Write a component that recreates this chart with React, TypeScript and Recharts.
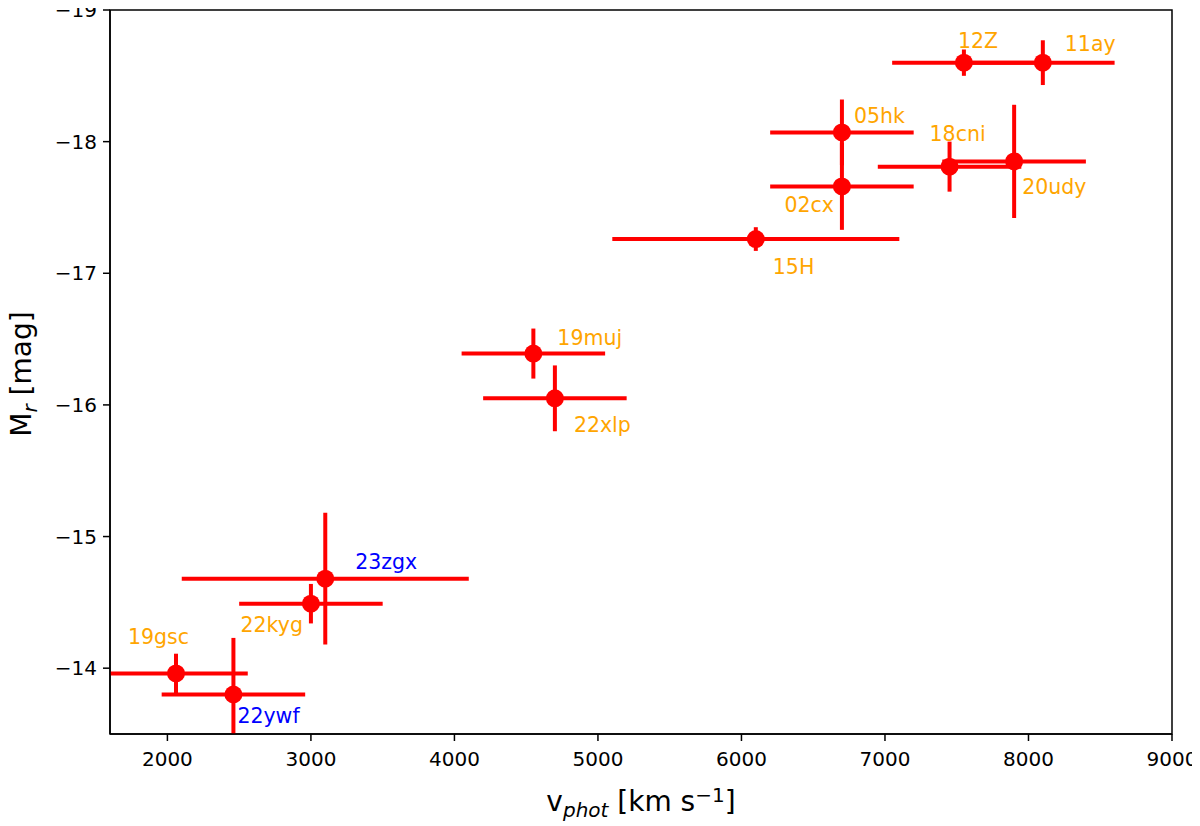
import { ScatterChart, Scatter, XAxis, YAxis, ErrorBar, ReferenceArea } from "recharts";

// supernova name, photospheric velocity (km/s) and r-band absolute magnitude
const names = ["12Z", "11ay", "05hk", "18cni", "20udy", "02cx", "15H", "19muj", "22xlp", "23zgx", "22kyg", "19gsc", "22ywf"];
const vphot = [7550, 8100, 6700, 7450, 7900, 6700, 6100, 4550, 4700, 3100, 3000, 2060, 2460];
const vphotErr = [500, 500, 500, 500, 500, 500, 1000, 500, 500, 1000, 500, 500, 500];
const magR = [-18.6, -18.6, -18.07, -17.81, -17.85, -17.66, -17.26, -16.39, -16.05, -14.68, -14.49, -13.96, -13.8];
const magErr = [0.1, 0.17, 0.25, 0.19, 0.43, 0.33, 0.09, 0.19, 0.25, 0.5, 0.15, 0.15, 0.43];
const newObjects = ["23zgx", "22ywf"];

const xTicks = [2000, 3000, 4000, 5000, 6000, 7000, 8000, 9000];
const yTicks = [-19, -18, -17, -16, -15, -14];

const font = "'DejaVu Sans', sans-serif";

// annotation placement relative to the marker: dx, dy (baseline), anchor
const labelPos: Record<string, [number, number, "start" | "end"]> = {
  "12Z": [-6, -15, "start"],
  "11ay": [22, -12, "start"],
  "05hk": [12, -9, "start"],
  "18cni": [-20, -26, "start"],
  "20udy": [8, 33, "start"],
  "02cx": [-8, 26, "end"],
  "15H": [17, 35, "start"],
  "19muj": [24, -9, "start"],
  "22xlp": [19, 34, "start"],
  "23zgx": [30, -10, "start"],
  "22kyg": [-8, 28, "end"],
  "19gsc": [-48, -29, "start"],
  "22ywf": [4, 28, "start"],
};

const data = names.map((name, i) => ({
  name,
  v: vphot[i],
  vErr: vphotErr[i],
  m: magR[i],
  mErr: magErr[i],
}));

const minus = (v: number) => String(v).replace("-", "\u2212");

const Point = (props: any) => {
  const { cx, cy, payload } = props;
  const [dx, dy, anchor] = labelPos[payload.name];
  const color = newObjects.includes(payload.name) ? "#0000ff" : "#ffa500";
  return (
    <g>
      <circle cx={cx} cy={cy} r={9} fill="#ff0000" />
      <text x={cx + dx} y={cy + dy} textAnchor={anchor} fontSize={20.5} fontFamily={font} fill={color}>
        {payload.name}
      </text>
    </g>
  );
};

const XTitle = (props: any) => {
  const { x, y, width } = props.viewBox;
  return (
    <text x={x + width / 2} y={y + 77} textAnchor="middle" fontSize={28} fontFamily={font} fill="#000">
      v
      <tspan fontSize={20} fontStyle="italic" dy={6}>phot</tspan>
      <tspan dy={-6}> [km s</tspan>
      <tspan fontSize={20} dy={-9}>{"\u22121"}</tspan>
      <tspan dy={9}>]</tspan>
    </text>
  );
};

const YTitle = (props: any) => {
  const { y, height } = props.viewBox;
  const cx = 23;
  const cy = y + height / 2 + 2;
  return (
    <text x={cx} y={cy} transform={`rotate(-90 ${cx} ${cy})`} textAnchor="middle" fontSize={28} fontFamily={font} fill="#000">
      M
      <tspan fontSize={20} fontStyle="italic" dy={6}>r</tspan>
      <tspan dy={-6}> [mag]</tspan>
    </text>
  );
};

const axisStroke = { stroke: "#000", strokeWidth: 1.5 };
const tickStyle = { fill: "#000", fontSize: 20, fontFamily: font };

export default function App() {
  return (
    <div style={{ position: "relative" }}>
      {/* error bars are clipped to the axes box, like matplotlib does */}
      <svg width={0} height={0} style={{ position: "absolute" }}>
        <defs>
          <clipPath id="plotBox">
            <rect x={102} y={2} width={1062} height={724} />
          </clipPath>
        </defs>
      </svg>
      <style>{".recharts-errorBar line { clip-path: url(#plotBox); }"}</style>
      <ScatterChart width={1184} height={818} margin={{ top: 2, right: 20, bottom: 0, left: 0 }}>
        <XAxis
          type="number"
          dataKey="v"
          domain={[1600, 9000]}
          ticks={xTicks}
          interval={0}
          allowDataOverflow
          height={92}
          tickSize={7}
          tickMargin={11}
          axisLine={axisStroke}
          tickLine={axisStroke}
          tick={tickStyle}
          label={{ content: XTitle }}
        />
        <YAxis
          type="number"
          dataKey="m"
          domain={[-19, -13.5]}
          reversed
          ticks={yTicks}
          interval={0}
          allowDataOverflow
          width={102}
          tickSize={7}
          tickMargin={6}
          tickFormatter={minus}
          axisLine={axisStroke}
          tickLine={axisStroke}
          tick={tickStyle}
          label={{ content: YTitle }}
        />
        <Scatter data={data} shape={Point} isAnimationActive={false}>
          <ErrorBar dataKey="vErr" direction="x" width={0} stroke="#ff0000" strokeWidth={4} isAnimationActive={false} />
          <ErrorBar dataKey="mErr" direction="y" width={0} stroke="#ff0000" strokeWidth={4} isAnimationActive={false} />
        </Scatter>
        <ReferenceArea x1={1600} x2={9000} y1={-19} y2={-13.5} fill="none" stroke="#000" strokeWidth={1.5} />
      </ScatterChart>
    </div>
  );
}
